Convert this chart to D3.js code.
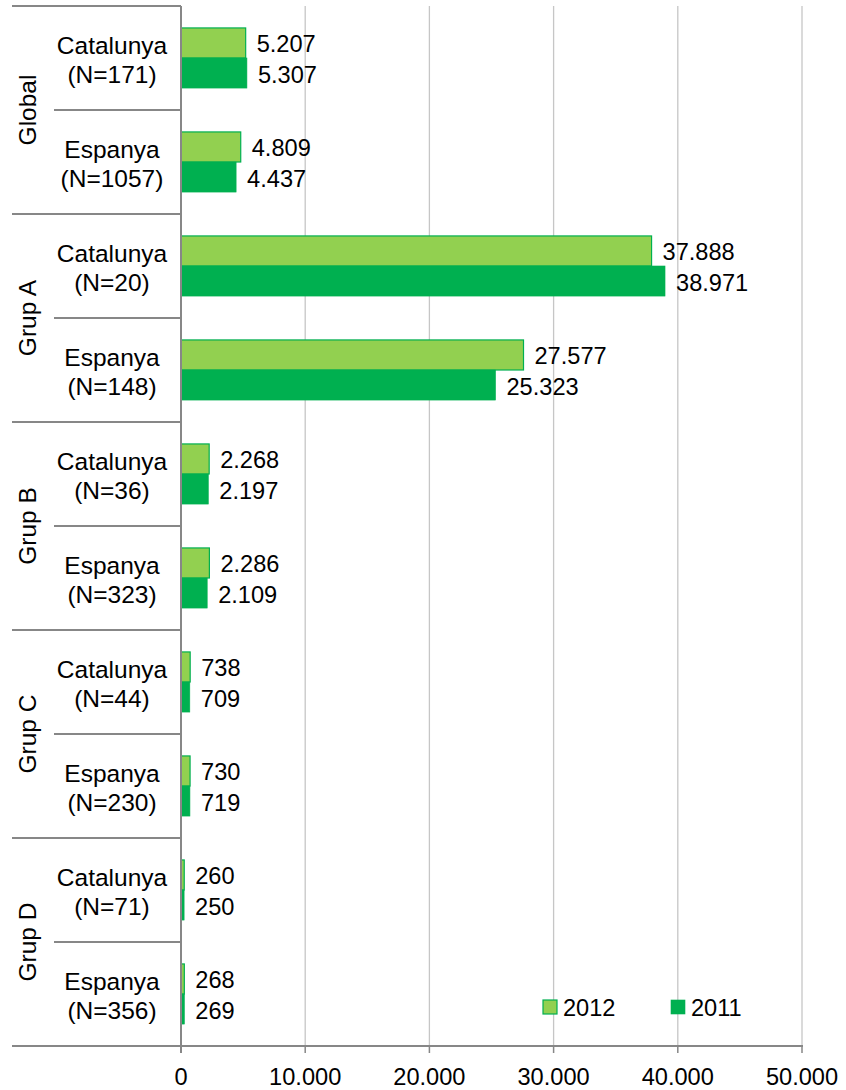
<!DOCTYPE html>
<html>
<head>
<meta charset="utf-8">
<script src="https://cdn.jsdelivr.net/npm/d3@7/dist/d3.min.js"></script>
<style>
  html, body { margin: 0; padding: 0; background: #fff; }
  svg { display: block; font-family: "Liberation Sans", Arial, sans-serif; }
</style>
</head>
<body>
<svg id="chart" width="846" height="1090"></svg>
<script>
// Groups and the two regions inside each group
const groups = ["Global", "Grup A", "Grup B", "Grup C", "Grup D"];
const regions = ["Catalunya", "Espanya"];
// Sample size (N) for each row, in row order
const sampleSizes = [171, 1057, 20, 148, 36, 323, 44, 230, 71, 356];
// Series values, one per row
const series = ["2012", "2011"];
const values2012 = [5207, 4809, 37888, 27577, 2268, 2286, 738, 730, 260, 268];
const values2011 = [5307, 4437, 38971, 25323, 2197, 2109, 709, 719, 250, 269];
const xTicks = [0, 10000, 20000, 30000, 40000, 50000];

const colors = { "2012": "#92D050", "2011": "#00B050" };
const fmt = d3.formatLocale({ decimal: ",", thousands: ".", grouping: [3], currency: ["", "€"] }).format(",d");

const rows = [];
groups.forEach((g, gi) => {
  regions.forEach((r, ri) => {
    const i = gi * regions.length + ri;
    rows.push({
      id: i, group: g, region: r, n: sampleSizes[i],
      vals: [{ key: "2012", v: values2012[i] }, { key: "2011", v: values2011[i] }]
    });
  });
});

const svg = d3.select("#chart");
const plotLeft = 181, plotRight = 802, plotTop = 6, plotBottom = 1046;

const x = d3.scaleLinear().domain([0, 50000]).range([plotLeft, plotRight]);
const y = d3.scaleBand().domain(rows.map(d => d.id)).range([plotTop, plotBottom]).padding(0);
const yInner = d3.scaleBand().domain(series).range([0, y.bandwidth()]).paddingInner(0).paddingOuter(0.73);

const axisColor = "#878787", gridColor = "#c6c6c6";

// vertical gridlines
svg.append("g").selectAll("line").data(xTicks.slice(1)).join("line")
  .attr("x1", d => x(d)).attr("x2", d => x(d))
  .attr("y1", plotTop).attr("y2", plotBottom)
  .attr("stroke", gridColor).attr("stroke-width", 1.3);

// bars
const rowG = svg.append("g").selectAll("g").data(rows).join("g")
  .attr("transform", d => `translate(0,${y(d.id)})`);

rowG.selectAll("rect").data(d => d.vals).join("rect")
  .attr("x", x(0))
  .attr("y", d => yInner(d.key))
  .attr("width", d => x(d.v) - x(0))
  .attr("height", yInner.bandwidth())
  .attr("fill", d => colors[d.key])
  .attr("stroke", "#00B050")
  .attr("stroke-width", d => d.key === "2012" ? 1.2 : 0.6);

// value labels
rowG.selectAll("text.val").data(d => d.vals).join("text")
  .attr("class", "val")
  .attr("x", d => x(d.v) + 11)
  .attr("y", d => yInner(d.key) + yInner.bandwidth() / 2 + 1)
  .attr("dy", "0.36em")
  .attr("font-size", 23.6)
  .attr("fill", "#000")
  .text(d => fmt(d.v));

// bottom axis line and ticks
svg.append("line")
  .attr("x1", 12).attr("x2", plotRight + 1)
  .attr("y1", plotBottom).attr("y2", plotBottom)
  .attr("stroke", axisColor).attr("stroke-width", 2);
svg.append("g").selectAll("line").data(xTicks).join("line")
  .attr("x1", d => x(d)).attr("x2", d => x(d))
  .attr("y1", plotBottom).attr("y2", plotBottom + 7)
  .attr("stroke", axisColor).attr("stroke-width", 1.5);
svg.append("g").selectAll("text").data(xTicks).join("text")
  .attr("x", d => x(d)).attr("y", 1085)
  .attr("text-anchor", "middle")
  .attr("font-size", 23.6)
  .attr("fill", "#000")
  .text(d => fmt(d));

// left axis line
svg.append("line")
  .attr("x1", plotLeft).attr("x2", plotLeft)
  .attr("y1", plotTop).attr("y2", plotBottom + 7)
  .attr("stroke", axisColor).attr("stroke-width", 2);

// row separators: full width at group boundaries, shorter inside groups
const seps = d3.range(rows.length + 1);
svg.append("g").selectAll("line").data(seps).join("line")
  .attr("x1", d => d % regions.length === 0 ? 12 : 54)
  .attr("x2", plotLeft)
  .attr("y1", d => plotTop + d * y.bandwidth())
  .attr("y2", d => plotTop + d * y.bandwidth())
  .attr("stroke", axisColor).attr("stroke-width", 2);

// row labels
const lab = svg.append("g").selectAll("text").data(rows).join("text")
  .attr("text-anchor", "middle")
  .attr("font-size", 24.5)
  .attr("fill", "#000");
lab.append("tspan")
  .attr("x", 112)
  .attr("y", d => y(d.id) + y.bandwidth() / 2 - 4)
  .text(d => d.region);
lab.append("tspan")
  .attr("x", 112)
  .attr("y", d => y(d.id) + y.bandwidth() / 2 + 25)
  .text(d => `(N=${d.n})`);

// group labels, rotated
const groupH = y.bandwidth() * regions.length;
svg.append("g").selectAll("text").data(groups).join("text")
  .attr("transform", (d, i) => `translate(36,${plotTop + groupH * i + groupH / 2}) rotate(-90)`)
  .attr("text-anchor", "middle")
  .attr("font-size", 24.5)
  .attr("fill", "#000")
  .text(d => d);

// legend
const legend = svg.append("g").selectAll("g").data(series).join("g")
  .attr("transform", (d, i) => `translate(${543 + i * 128},1000)`);
legend.append("rect")
  .attr("width", 14).attr("height", 14)
  .attr("fill", d => colors[d])
  .attr("stroke", "#00B050")
  .attr("stroke-width", d => d === "2012" ? 1.2 : 0.6);
legend.append("text")
  .attr("x", 20).attr("y", 16)
  .attr("font-size", 23.6)
  .attr("fill", "#000")
  .text(d => d);
</script>
</body>
</html>
